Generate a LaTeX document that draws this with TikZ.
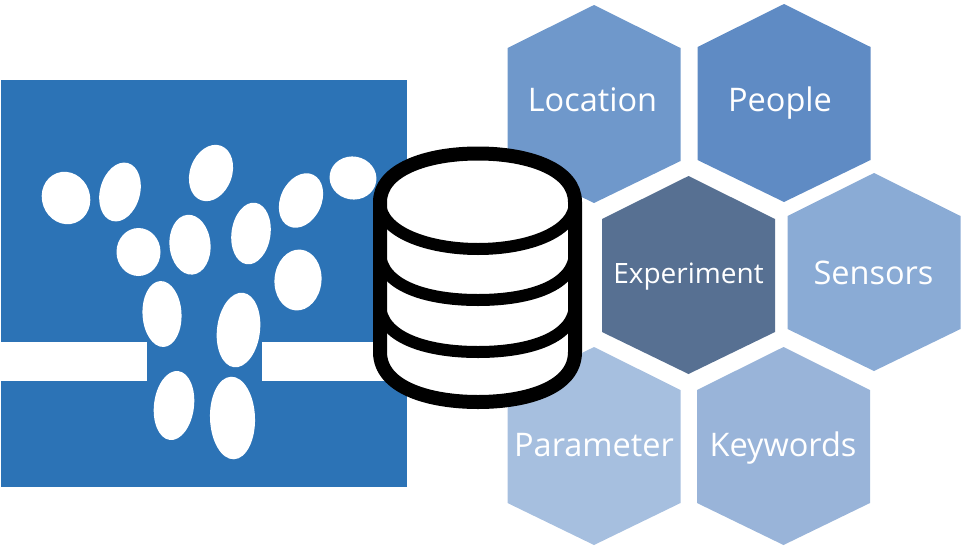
\documentclass[tikz,border=0pt]{standalone}
\usepackage{fontspec}
\setmainfont{Open Sans}

\definecolor{boxblue}{HTML}{2C73B6}
\definecolor{hexlocation}{HTML}{6F98CB}
\definecolor{hexpeople}{HTML}{5F8BC4}
\definecolor{hexexperiment}{HTML}{577092}
\definecolor{hexsensors}{HTML}{8AABD5}
\definecolor{hexparameter}{HTML}{A6BFDF}
\definecolor{hexkeywords}{HTML}{99B4D9}

\tikzset{
  hexlabel/.style={text=white, anchor=base, inner sep=0pt, font=\fontsize{32.5}{32.5}\selectfont},
  dbline/.style={line width=14pt, line join=round},
  dbband/.style={line width=12pt}
}

\begin{document}
\begin{tikzpicture}[x=1pt,y=1pt,yscale=-1]
\useasboundingbox (0,0) rectangle (963,549);

% blue square
\fill[boxblue] (1,80) rectangle (407,487);

% white bars
\fill[white] (1,342) rectangle (146.5,381);
\fill[white] (261.5,342) rectangle (407,381);

% drops
\foreach \x/\y/\a/\b/\r in {66/198/24/26.5/-20, 120/192/20/30/15, 211/173/21/29/20,
    301/200.5/20.5/28.5/25, 353/178/23.5/21.5/10, 138.5/252/22/24/0,
    190/244.7/20.5/30/-5, 251/233.5/19.5/31/8, 298/280/23.5/30.5/5,
    162/314/19.5/33/-3, 238.5/330/21.5/37.5/7, 174/405.5/20/34.7/7, 232.5/418/22.5/41.3/-2}
  \fill[white] (\x,\y) circle[x radius=\a pt, y radius=\b pt, rotate=\r];

% hexagons
\foreach \x/\y/\c in {594/5/hexlocation, 784/4/hexpeople, 688.5/176/hexexperiment,
    874/173/hexsensors, 594/347/hexparameter, 783.5/347/hexkeywords}
  \fill[\c] (\x,\y) -- ++(86.5,43) -- ++(0,113) -- ++(-86.5,42) -- ++(-86.5,-42) -- ++(0,-113) -- cycle;

% labels
\node[hexlabel] (location) at (592.5,111) {Location};
\node[hexlabel] (people) at (780,111) {People};
\node[hexlabel, font=\fontsize{28}{28}\selectfont] (experiment) at (688.5,283.5) {Experiment};
\node[hexlabel] (sensors) at (873.5,284) {Sensors};
\node[hexlabel] (parameter) at (594,456.5) {Parameter};
\node[hexlabel] (keywords) at (783,456) {Keywords};

% database
\draw[dbline, fill=white] (380,202) -- (380,352) .. controls (380,388) and (430,402) .. (478,402)
  .. controls (526,402) and (575,388) .. (575,352) -- (575,202)
  .. controls (575,170) and (530,153.5) .. (478,153.5)
  .. controls (426,153.5) and (380,170) .. (380,202) -- cycle;
\draw[dbband] (380,202) .. controls (380,232) and (428,249) .. (478,249)
  .. controls (528,249) and (575,232) .. (575,202);
\draw[dbband] (380,252) .. controls (380,285) and (425,300) .. (478,300)
  .. controls (531,300) and (575,285) .. (575,252);
\draw[dbband] (380,304) .. controls (380,337) and (425,352) .. (478,352)
  .. controls (531,352) and (575,337) .. (575,304);

\end{tikzpicture}
\end{document}
